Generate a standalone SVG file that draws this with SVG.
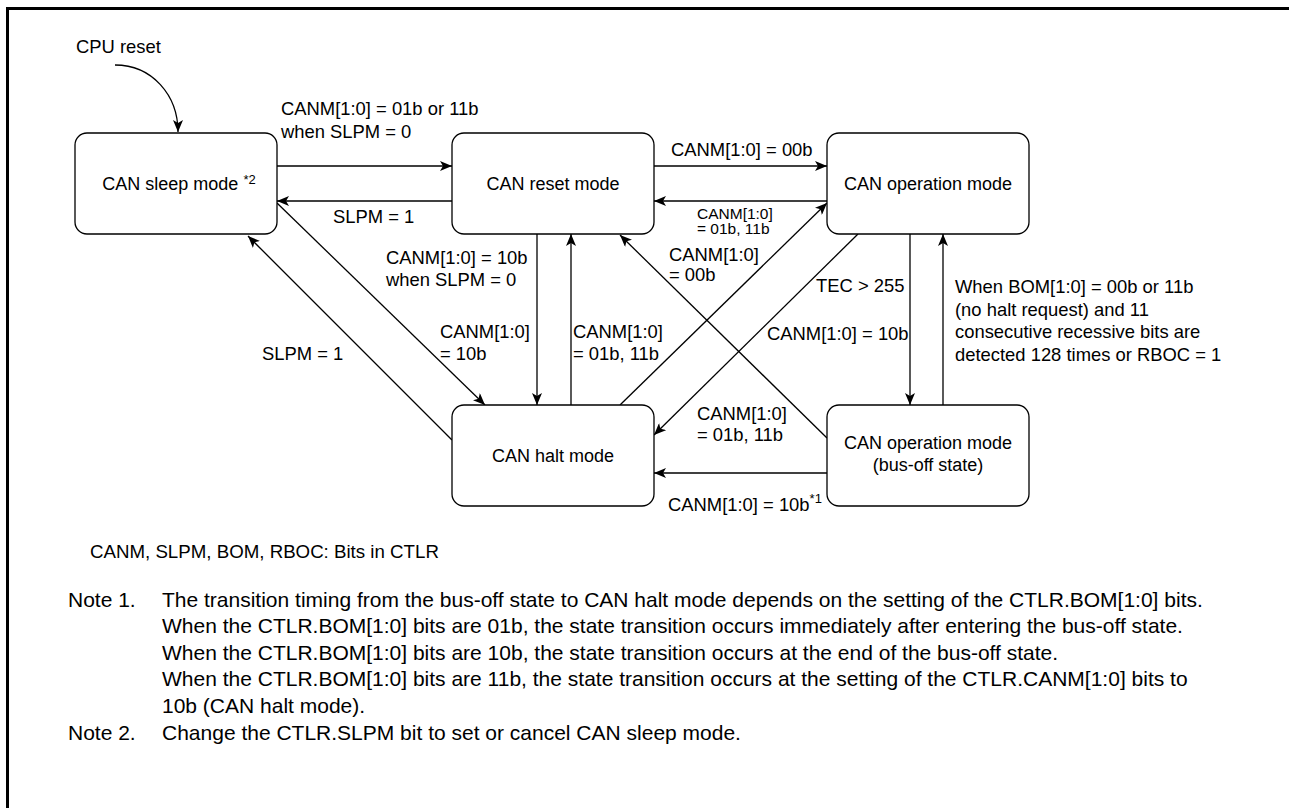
<svg xmlns="http://www.w3.org/2000/svg" width="1289" height="808" viewBox="0 0 1289 808">
<defs>
<marker id="arr" viewBox="0 0 12 10" refX="12" refY="5" markerWidth="12" markerHeight="10" markerUnits="userSpaceOnUse" orient="auto">
<path d="M0,0 L12,5 L0,10 L3,5 Z" fill="#000"/>
</marker>
<style>
text{font-family:"Liberation Sans",Arial,sans-serif;fill:#000}
.node rect{fill:#fff;stroke:#000;stroke-width:1.3}
.nl{font-size:18px;text-anchor:middle}
.lb{font-size:18.4px}
.sm{font-size:15.5px}
.note{font-size:21px}
.key{font-size:18.7px}
.edge{fill:none;stroke:#000;stroke-width:1.3;marker-end:url(#arr)}
.sup{font-size:13px}
</style>
</defs>
<rect x="0" y="0" width="1289" height="808" fill="#fff"/>
<g id="frame" stroke="#000" stroke-width="3" fill="none">
<path d="M7.5,808 V8.5 H1289"/>
</g>
<g id="connectors">
<path class="edge" d="M115,65 C152,65 178,95 178,132"/>
<path class="edge" d="M277,166 H452"/>
<path class="edge" d="M452,201 H277"/>
<path class="edge" d="M654,166 H827"/>
<path class="edge" d="M827,201 H654"/>
<path class="edge" d="M537,234 V405"/>
<path class="edge" d="M571,405 V234"/>
<path class="edge" d="M910,234 V405"/>
<path class="edge" d="M943,405 V234"/>
<path class="edge" d="M827,473 H654"/>
<path class="edge" d="M277,203 L485,405"/>
<path class="edge" d="M452,440 L248,236"/>
<path class="edge" d="M620,405 L827,203"/>
<path class="edge" d="M858,234 L654,435"/>
<path class="edge" d="M827,438 L620,235"/>
</g>
<g id="node-sleep" class="node">
<rect x="75" y="133" width="202" height="101" rx="12"/>
<text class="nl" x="179" y="190">CAN sleep mode <tspan class="sup" dy="-6">*2</tspan></text>
</g>
<g id="node-reset" class="node">
<rect x="452" y="133" width="202" height="101" rx="12"/>
<text class="nl" x="553" y="190">CAN reset mode</text>
</g>
<g id="node-operation" class="node">
<rect x="827" y="133" width="202" height="101" rx="12"/>
<text class="nl" x="928" y="190">CAN operation mode</text>
</g>
<g id="node-halt" class="node">
<rect x="452" y="405" width="202" height="101" rx="12"/>
<text class="nl" x="553" y="462">CAN halt mode</text>
</g>
<g id="node-busoff" class="node">
<rect x="827" y="405" width="202" height="101" rx="12"/>
<text class="nl" x="928" y="449">CAN operation mode</text>
<text class="nl" x="928" y="471">(bus-off state)</text>
</g>
<g id="labels">
<text class="lb" x="76" y="53">CPU reset</text>
<text class="lb" x="281" y="115">CANM[1:0] = 01b or 11b</text>
<text class="lb" x="281" y="138">when SLPM = 0</text>
<text class="lb" x="333" y="223">SLPM = 1</text>
<text class="lb" x="671" y="156">CANM[1:0] = 00b</text>
<text class="sm" x="697" y="219">CANM[1:0]</text>
<text class="sm" x="697" y="234">= 01b, 11b</text>
<text class="lb" x="669" y="261">CANM[1:0]</text>
<text class="lb" x="669" y="281">= 00b</text>
<text class="lb" x="386" y="264">CANM[1:0] = 10b</text>
<text class="lb" x="386" y="286">when SLPM = 0</text>
<text class="lb" x="262" y="360">SLPM = 1</text>
<text class="lb" x="440" y="338">CANM[1:0]</text>
<text class="lb" x="440" y="360">= 10b</text>
<text class="lb" x="573" y="338">CANM[1:0]</text>
<text class="lb" x="573" y="360">= 01b, 11b</text>
<text class="lb" x="816" y="292">TEC &gt; 255</text>
<text class="lb" x="767" y="340">CANM[1:0] = 10b</text>
<text class="lb" x="955" y="293">When BOM[1:0] = 00b or 11b</text>
<text class="lb" x="955" y="316">(no halt request) and 11</text>
<text class="lb" x="955" y="338">consecutive recessive bits are</text>
<text class="lb" x="955" y="361">detected 128 times or RBOC = 1</text>
<text class="lb" x="697" y="420">CANM[1:0]</text>
<text class="lb" x="697" y="441">= 01b, 11b</text>
<text class="lb" x="668" y="511">CANM[1:0] = 10b<tspan class="sup" dy="-8">*1</tspan></text>
</g>
<g id="notes">
<text class="key" x="90" y="558">CANM, SLPM, BOM, RBOC: Bits in CTLR</text>
<text class="note" x="68" y="607">Note 1.</text>
<text class="note" x="162" y="607">The transition timing from the bus-off state to CAN halt mode depends on the setting of the CTLR.BOM[1:0] bits.</text>
<text class="note" x="162" y="633">When the CTLR.BOM[1:0] bits are 01b, the state transition occurs immediately after entering the bus-off state.</text>
<text class="note" x="162" y="660">When the CTLR.BOM[1:0] bits are 10b, the state transition occurs at the end of the bus-off state.</text>
<text class="note" x="162" y="686">When the CTLR.BOM[1:0] bits are 11b, the state transition occurs at the setting of the CTLR.CANM[1:0] bits to</text>
<text class="note" x="162" y="713">10b (CAN halt mode).</text>
<text class="note" x="68" y="740">Note 2.</text>
<text class="note" x="162" y="740">Change the CTLR.SLPM bit to set or cancel CAN sleep mode.</text>
</g>
</svg>
